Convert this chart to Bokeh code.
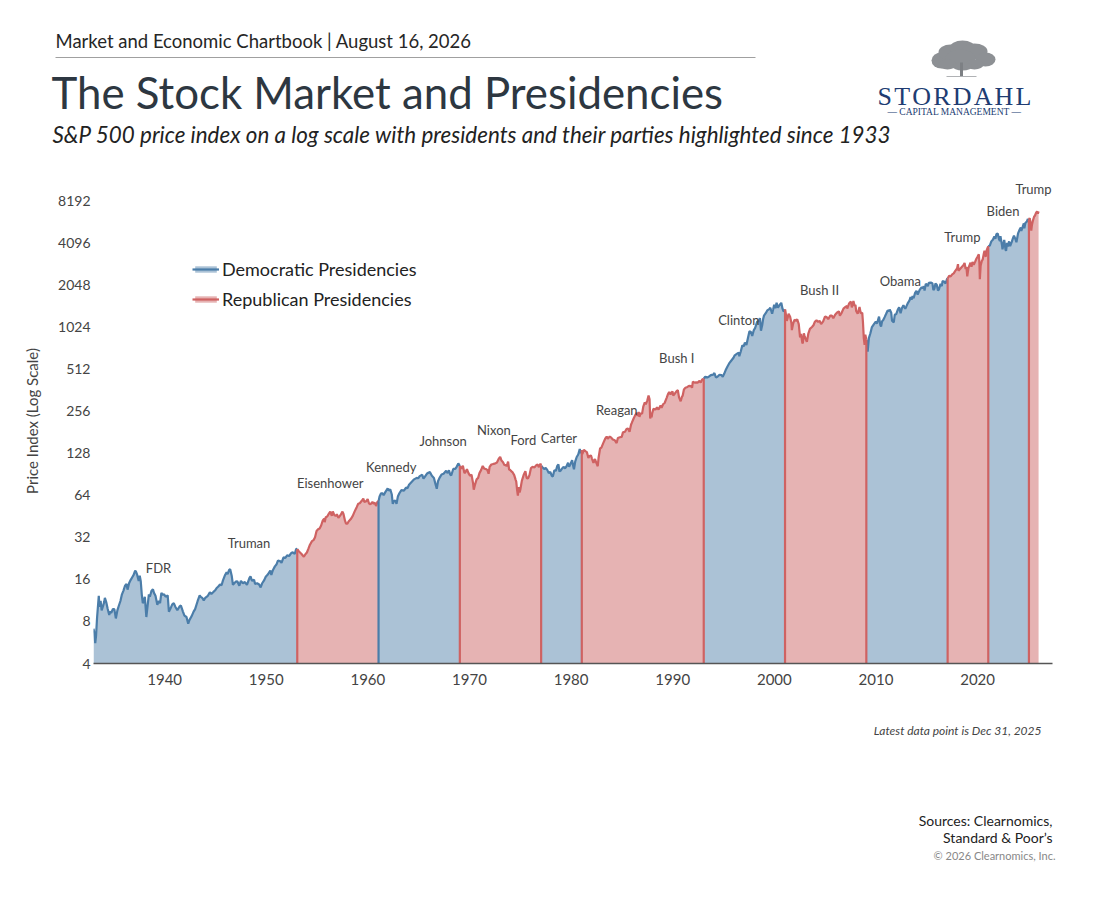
from bokeh.plotting import figure
from bokeh.layouts import column
from bokeh.models import (ColumnDataSource, FixedTicker, NumeralTickFormatter,
                          Legend, LegendItem, Range1d)
from bokeh.core.properties import value
from bokeh.embed import file_html
from bokeh.resources import INLINE

# ---------------- data ----------------
dates = [
 1933.00,1933.08,1933.17,1933.25,1933.35,1933.45,1933.52,1933.58,1933.70,1933.80,1933.92,
 1934.05,1934.12,1934.25,1934.40,1934.55,1934.62,1934.75,1934.90,
 1935.05,1935.20,1935.35,1935.50,1935.65,1935.80,1935.95,
 1936.10,1936.25,1936.35,1936.50,1936.65,1936.80,1936.95,
 1937.10,1937.20,1937.30,1937.45,1937.55,1937.65,1937.75,1937.85,1937.95,
 1938.05,1938.20,1938.30,1938.45,1938.55,1938.70,1938.85,1938.95,
 1939.10,1939.28,1939.40,1939.55,1939.68,1939.80,1939.95,
 1940.10,1940.30,1940.42,1940.55,1940.75,1940.90,
 1941.05,1941.25,1941.45,1941.60,1941.80,1941.95,
 1942.15,1942.32,1942.45,1942.65,1942.85,
 1943.00,1943.25,1943.45,1943.55,1943.70,1943.85,
 1944.00,1944.25,1944.45,1944.60,1944.80,1944.95,
 1945.10,1945.28,1945.45,1945.60,1945.75,1945.95,
 1946.10,1946.20,1946.35,1946.45,1946.60,1946.72,1946.85,
 1947.00,1947.15,1947.35,1947.50,1947.70,1947.90,
 1948.10,1948.35,1948.45,1948.60,1948.80,1948.90,
 1949.10,1949.30,1949.45,1949.60,1949.80,1949.95,
 1950.15,1950.40,1950.50,1950.65,1950.85,
 1951.00,1951.15,1951.40,1951.50,1951.70,1951.90,
 1952.05,1952.25,1952.45,1952.60,1952.80,1952.95,
 1953.05,1953.20,1953.45,1953.70,1953.85,
 1954.00,1954.15,1954.30,1954.50,1954.65,1954.80,1954.95,
 1955.10,1955.25,1955.40,1955.55,1955.70,1955.75,1955.85,
 1956.00,1956.15,1956.30,1956.45,1956.55,1956.70,1956.85,1956.95,
 1957.10,1957.30,1957.50,1957.60,1957.75,1957.85,1957.98,
 1958.10,1958.30,1958.50,1958.70,1958.90,
 1959.05,1959.20,1959.40,1959.55,1959.65,1959.85,1959.98,
 1960.10,1960.25,1960.45,1960.55,1960.70,1960.80,1960.95,
 1961.05,1961.15,1961.30,1961.45,1961.55,1961.70,1961.95,
 1962.05,1962.20,1962.35,1962.45,1962.55,1962.70,1962.82,1962.95,
 1963.10,1963.30,1963.55,1963.75,1963.89,
 1964.05,1964.30,1964.55,1964.80,1964.95,
 1965.10,1965.35,1965.47,1965.60,1965.80,1965.95,
 1966.10,1966.30,1966.50,1966.65,1966.78,1966.90,
 1967.05,1967.25,1967.45,1967.70,1967.85,1967.98,
 1968.10,1968.20,1968.40,1968.60,1968.75,1968.90,
 1969.05,1969.20,1969.35,1969.50,1969.60,1969.75,1969.90,
 1970.05,1970.20,1970.35,1970.42,1970.55,1970.70,1970.85,1970.98,
 1971.15,1971.30,1971.45,1971.60,1971.75,1971.88,1971.98,
 1972.15,1972.35,1972.50,1972.70,1972.88,
 1973.02,1973.15,1973.30,1973.45,1973.55,1973.65,1973.80,1973.90,1973.98,
 1974.10,1974.25,1974.40,1974.55,1974.60,1974.68,1974.76,1974.85,1974.93,
 1975.00,1975.15,1975.35,1975.50,1975.62,1975.75,1975.90,
 1976.05,1976.20,1976.40,1976.55,1976.70,1976.83,1976.98,
 1977.05,1977.20,1977.35,1977.50,1977.65,1977.80,1977.95,
 1978.10,1978.20,1978.35,1978.50,1978.65,1978.75,1978.85,1978.98,
 1979.10,1979.25,1979.40,1979.55,1979.70,1979.80,1979.95,
 1980.10,1980.22,1980.28,1980.40,1980.55,1980.70,1980.85,1980.93,
 1981.05,1981.10,1981.25,1981.40,1981.55,1981.70,1981.80,1981.95,
 1982.05,1982.20,1982.35,1982.50,1982.62,1982.70,1982.85,1982.98,
 1983.15,1983.35,1983.50,1983.60,1983.80,1983.95,
 1984.10,1984.30,1984.48,1984.60,1984.80,1984.98,
 1985.10,1985.30,1985.45,1985.60,1985.75,1985.90,1985.98,
 1986.15,1986.30,1986.45,1986.55,1986.65,1986.72,1986.85,1986.98,
 1987.10,1987.25,1987.35,1987.50,1987.62,1987.72,1987.78,1987.85,1987.92,1987.98,
 1988.10,1988.30,1988.45,1988.60,1988.80,1988.90,
 1989.05,1989.20,1989.40,1989.55,1989.65,1989.78,1989.85,1989.98,
 1990.05,1990.20,1990.38,1990.50,1990.62,1990.78,1990.90,1990.98,
 1991.10,1991.25,1991.45,1991.60,1991.80,1991.90,1991.98,
 1992.15,1992.30,1992.45,1992.60,1992.75,1992.90,
 1993.05,1993.20,1993.40,1993.55,1993.75,1993.98,
 1994.10,1994.25,1994.40,1994.60,1994.80,1994.92,
 1995.05,1995.20,1995.40,1995.55,1995.75,1995.98,
 1996.10,1996.30,1996.50,1996.55,1996.70,1996.85,1996.98,
 1997.10,1997.25,1997.40,1997.55,1997.70,1997.82,1997.98,
 1998.10,1998.30,1998.50,1998.58,1998.68,1998.80,1998.90,1998.98,
 1999.15,1999.30,1999.50,1999.60,1999.78,1999.88,1999.98,
 2000.10,2000.22,2000.35,2000.50,2000.68,2000.80,2000.90,2000.98,
 2001.05,2001.15,2001.22,2001.30,2001.40,2001.55,2001.68,2001.72,2001.85,2001.98,
 2002.15,2002.25,2002.40,2002.53,2002.62,2002.75,2002.80,2002.90,2002.98,
 2003.10,2003.20,2003.35,2003.50,2003.70,2003.85,2003.98,
 2004.15,2004.30,2004.45,2004.60,2004.80,2004.98,
 2005.15,2005.30,2005.50,2005.65,2005.80,2005.98,
 2006.15,2006.35,2006.45,2006.60,2006.80,2006.98,
 2007.15,2007.17,2007.35,2007.53,2007.62,2007.78,2007.90,2007.98,
 2008.05,2008.20,2008.38,2008.50,2008.65,2008.72,2008.80,2008.88,2008.95,
 2009.05,2009.12,2009.18,2009.30,2009.45,2009.60,2009.80,2009.98,
 2010.10,2010.30,2010.42,2010.50,2010.60,2010.70,2010.85,2010.98,
 2011.15,2011.30,2011.35,2011.50,2011.58,2011.75,2011.85,2011.98,
 2012.15,2012.28,2012.42,2012.55,2012.70,2012.88,2012.98,
 2013.15,2013.30,2013.40,2013.50,2013.60,2013.70,2013.85,2013.98,
 2014.10,2014.30,2014.50,2014.60,2014.70,2014.78,2014.90,2014.98,
 2015.10,2015.20,2015.40,2015.55,2015.65,2015.75,2015.85,2015.98,
 2016.10,2016.20,2016.35,2016.48,2016.55,2016.70,2016.85,2016.98,
 2017.05,2017.20,2017.35,2017.50,2017.65,2017.80,2017.98,
 2018.07,2018.12,2018.25,2018.40,2018.60,2018.72,2018.82,2018.90,2018.98,
 2019.10,2019.30,2019.40,2019.50,2019.62,2019.75,2019.88,2019.98,
 2020.12,2020.18,2020.22,2020.30,2020.42,2020.50,2020.62,2020.68,2020.75,2020.82,2020.90,2020.98,
 2021.05,2021.20,2021.35,2021.50,2021.65,2021.75,2021.85,2021.98,
 2022.10,2022.20,2022.25,2022.40,2022.45,2022.62,2022.75,2022.80,2022.90,2022.98,
 2023.10,2023.20,2023.35,2023.50,2023.58,2023.75,2023.82,2023.98,
 2024.15,2024.25,2024.30,2024.45,2024.55,2024.60,2024.70,2024.85,2024.95,2024.98,
 2025.05,2025.13,2025.22,2025.28,2025.35,2025.45,2025.55,2025.65,2025.75,2025.85,2025.93,2026.00,
]
spx = [
 7.1,6.6,5.6,6.3,8.5,10.5,12.2,10.2,11.2,9.6,10.2,
 11.0,11.8,11.0,9.8,8.9,9.4,9.2,9.8,
 9.8,8.4,9.6,10.4,11.2,12.5,13.3,
 14.4,14.8,13.5,15.0,15.8,16.5,17.2,
 18.5,18.0,17.2,15.6,17.0,15.5,12.5,10.8,11.2,
 12.0,8.6,10.0,12.5,12.0,13.2,13.6,12.8,
 12.2,10.5,11.2,10.8,12.8,12.4,12.5,
 12.0,12.3,9.4,9.8,10.6,10.8,
 10.2,9.6,10.2,10.4,9.4,8.8,
 8.6,7.7,8.2,8.7,9.4,
 9.8,11.2,12.3,12.0,11.8,11.3,
 11.8,12.2,12.9,12.6,13.0,13.3,
 13.8,14.2,14.7,14.5,15.8,17.2,
 18.0,17.4,18.7,18.9,17.0,14.6,15.0,
 15.4,15.5,14.4,15.6,15.0,15.3,
 14.6,16.4,16.8,15.6,15.9,14.8,
 15.0,14.7,14.0,15.0,15.8,16.7,
 17.3,18.5,17.2,18.6,19.8,
 20.4,21.8,21.5,21.0,23.0,22.8,
 23.8,23.5,24.6,25.0,24.3,26.4,
 26.3,25.4,24.4,23.2,24.2,
 24.9,26.5,28.3,30.0,30.5,32.0,35.5,
 36.5,37.0,38.8,42.0,43.5,41.0,44.5,
 45.0,47.0,48.8,45.5,48.9,46.0,45.5,46.7,
 44.0,46.0,48.8,47.0,42.0,40.0,40.0,
 41.5,43.0,45.3,49.0,52.5,
 55.5,56.0,58.3,60.5,57.3,58.0,59.9,
 56.0,55.0,57.3,55.5,56.5,53.5,57.5,
 58.0,62.5,66.0,65.8,64.0,67.0,71.5,
 69.0,70.5,65.0,55.5,58.0,58.5,55.5,62.5,
 66.0,69.5,69.0,72.5,71.5,
 76.0,79.5,83.0,85.0,84.5,
 87.5,89.5,84.0,86.5,91.0,92.5,
 93.5,88.0,85.0,77.0,71.0,80.5,
 85.0,90.0,91.0,95.5,92.0,96.5,
 90.0,88.5,98.5,98.5,102.5,108.0,
 103.5,99.0,104.0,92.0,93.5,98.0,92.0,
 88.0,89.5,78.0,70.0,76.5,83.0,85.0,92.0,
 97.0,103.5,99.0,98.5,97.0,91.0,102.0,
 106.0,107.0,107.5,109.5,116.5,
 120.0,113.0,110.0,104.5,106.0,103.0,111.0,97.0,97.5,
 95.0,93.0,89.0,82.0,80.0,70.0,63.5,73.0,67.0,
 70.0,81.0,90.0,95.0,85.0,84.0,89.0,
 100.0,102.0,101.0,104.5,106.0,101.5,107.5,
 104.0,101.0,98.5,100.0,97.0,92.0,94.0,
 88.0,87.0,96.5,95.5,104.0,106.0,94.5,96.0,
 99.0,102.0,99.5,103.0,109.0,102.0,107.5,
 114.0,102.0,98.0,111.0,120.0,125.0,137.0,128.0,
 134.0,126.0,135.0,132.0,130.0,118.0,122.0,123.0,
 117.0,109.0,116.0,108.0,103.0,118.0,138.0,140.0,
 150.0,162.0,168.0,162.0,168.0,165.0,
 160.0,158.0,151.0,164.0,166.0,167.0,
 180.0,182.0,190.0,192.0,182.0,205.0,211.0,
 226.0,238.0,248.0,236.0,252.0,232.0,247.0,244.0,
 275.0,295.0,286.0,305.0,330.0,310.0,226.0,245.0,230.0,247.0,
 265.0,262.0,272.0,262.0,280.0,270.0,
 286.0,292.0,318.0,340.0,350.0,336.0,345.0,353.0,
 330.0,340.0,355.0,360.0,320.0,300.0,323.0,330.0,
 365.0,375.0,380.0,387.0,385.0,375.0,415.0,
 408.0,410.0,408.0,420.0,410.0,430.0,
 435.0,450.0,445.0,450.0,462.0,466.0,
 478.0,445.0,450.0,465.0,462.0,450.0,
 470.0,500.0,535.0,560.0,585.0,615.0,
 640.0,655.0,670.0,630.0,685.0,755.0,740.0,
 790.0,760.0,850.0,950.0,940.0,880.0,970.0,
 1000.0,1110.0,1140.0,1180.0,960.0,1050.0,1170.0,1230.0,
 1280.0,1340.0,1370.0,1400.0,1270.0,1360.0,1470.0,
 1390.0,1520.0,1400.0,1460.0,1520.0,1380.0,1320.0,1330.0,
 1360.0,1240.0,1130.0,1180.0,1270.0,1210.0,1090.0,970.0,1080.0,1150.0,
 1130.0,1160.0,1070.0,860.0,910.0,790.0,780.0,920.0,880.0,
 830.0,800.0,920.0,990.0,1020.0,1050.0,1110.0,
 1140.0,1110.0,1130.0,1070.0,1120.0,1210.0,
 1200.0,1160.0,1230.0,1230.0,1180.0,1250.0,
 1290.0,1320.0,1230.0,1280.0,1380.0,1420.0,
 1440.0,1380.0,1500.0,1550.0,1410.0,1565.0,1440.0,1470.0,
 1330.0,1270.0,1420.0,1280.0,1290.0,1100.0,850.0,760.0,900.0,
 830.0,740.0,680.0,850.0,920.0,1020.0,1070.0,1115.0,
 1080.0,1210.0,1060.0,1030.0,1120.0,1140.0,1200.0,1258.0,
 1340.0,1330.0,1360.0,1290.0,1130.0,1100.0,1250.0,1258.0,
 1360.0,1410.0,1280.0,1390.0,1460.0,1380.0,1426.0,
 1520.0,1580.0,1670.0,1600.0,1700.0,1640.0,1790.0,1848.0,
 1740.0,1880.0,1970.0,1930.0,2000.0,1860.0,2070.0,2059.0,
 2000.0,2110.0,2120.0,2100.0,1870.0,1920.0,2090.0,2044.0,
 1860.0,1900.0,2080.0,2000.0,2170.0,2160.0,2090.0,2239.0,
 2270.0,2370.0,2350.0,2430.0,2470.0,2570.0,2674.0,
 2870.0,2580.0,2640.0,2720.0,2820.0,2930.0,2650.0,2740.0,2350.0,
 2700.0,2940.0,2750.0,2980.0,2840.0,2980.0,3140.0,3231.0,
 3380.0,2900.0,2240.0,2800.0,3040.0,3100.0,3440.0,3580.0,3300.0,3270.0,3620.0,3756.0,
 3850.0,3900.0,4180.0,4300.0,4530.0,4360.0,4700.0,4766.0,
 4350.0,4200.0,4550.0,3930.0,3670.0,4280.0,3640.0,3580.0,4080.0,3840.0,
 4180.0,3860.0,4130.0,4450.0,4590.0,4280.0,4120.0,4770.0,
 5100.0,5250.0,4970.0,5350.0,5630.0,5190.0,5650.0,5800.0,6050.0,5880.0,
 5990.0,6130.0,5600.0,4980.0,5500.0,5910.0,6250.0,6400.0,6690.0,6850.0,6600.0,6850.0,
]

presidents = ["FDR", "Truman", "Eisenhower", "Kennedy", "Johnson", "Nixon", "Ford", "Carter",
              "Reagan", "Bush I", "Clinton", "Bush II", "Obama", "Trump", "Biden", "Trump"]
term_start = [1933.00, 1945.28, 1953.05, 1961.05, 1963.89, 1969.05, 1974.60, 1977.05,
              1981.05, 1989.05, 1993.05, 2001.05, 2009.05, 2017.05, 2021.05, 2025.05]
party = ["D", "D", "R", "D", "D", "R", "R", "D", "R", "R", "D", "R", "D", "R", "D", "R"]
# label anchor positions (year, index level)
label_x = [1939.4, 1948.3, 1956.3, 1962.3, 1967.4, 1972.4, 1975.3, 1978.8,
           1984.5, 1990.4, 1996.5, 2004.45, 2012.4, 2018.5, 2022.5, 2025.5]
label_y = [19.4, 28.9, 77.6, 101, 155, 186, 160, 163, 258, 617, 1136, 1892, 2159, 4528, 6948, 9980]

x_ticks = [1940, 1950, 1960, 1970, 1980, 1990, 2000, 2010, 2020]
y_ticks = [4, 8, 16, 32, 64, 128, 256, 512, 1024, 2048, 4096, 8192]
end_date = 2026.00

# ---------------- style ----------------
FILL = {"D": "#ABC2D6", "R": "#E6B3B3"}
LINE = {"D": "#4B7DA9", "R": "#CF6262"}
FONT = "Lato"
Y0 = 4
W = 1090


def blank(h, top):
    f = figure(width=W, height=h, x_range=Range1d(0, W), y_range=Range1d(top + h, top),
               output_backend="svg", toolbar_location=None, x_axis_location=None,
               y_axis_location=None, min_border=0)
    f.frame_align = False
    f.outline_line_color = None
    f.grid.visible = False
    f.background_fill_color = "white"
    f.border_fill_color = "white"
    return f


def txt(f, s, x, y, size, color="#222222", style="normal", align="left", font=FONT):
    f.text(x=[x], y=[y], text=[s], text_font=value(font), text_font_size=size, text_color=color,
           text_font_style=style, text_align=align, text_baseline="middle")


# ---------------- header ----------------
HEAD_H = 150
head = blank(HEAD_H, 0)
txt(head, "Market and Economic Chartbook | August 16, 2026", 55, 40, "18.5px", "#262626")
head.segment(x0=[55], y0=[57], x1=[755], y1=[57], line_color="#a0a0a0", line_width=1)
txt(head, "The Stock Market and Presidencies", 51, 91, "43.8px", "#2d3741")
txt(head, "S&P 500 price index on a log scale with presidents and their parties highlighted since 1933",
    52, 134, "22.4px", "#222222", style="italic")
# logo
head.ellipse(x=[941, 950, 962, 974, 985, 960, 947, 974, 962],
             y=[60, 52, 48, 51, 59, 58, 64, 64, 66],
             width=[20, 24, 26, 26, 20, 30, 18, 18, 20], height=[16, 16, 16, 16, 14, 18, 10, 10, 8],
             fill_color="#8d9094", line_color=None)
head.segment(x0=[961], y0=[62], x1=[961], y1=[76], line_color="#7d8084", line_width=3)
head.segment(x0=[946], y0=[76], x1=[976], y1=[76], line_color="#b0b2b5", line_width=1)
txt(head, "S\u200aT\u200aO\u200aR\u200aD\u200aA\u200aH\u200aL", 954, 96, "26px", "#203c72",
    align="center", font="Liberation Serif")
txt(head, "\u2014 CAPITAL MANAGEMENT \u2014", 954, 111, "9.5px", "#203c72", align="center",
    font="Liberation Serif")

# ---------------- main chart ----------------
MAIN_H = 560
p = figure(width=W, height=MAIN_H, x_range=Range1d(1933.0, 2027.37), y_range=Range1d(Y0, 11772),
           y_axis_type="log", output_backend="svg", toolbar_location=None,
           min_border_left=93, min_border_right=38, min_border_top=28, min_border_bottom=47)
p.frame_align = False
p.background_fill_color = "white"
p.border_fill_color = "white"
p.outline_line_color = None
p.grid.visible = False

runs = []
for t, pt in zip(term_start, party):
    if runs and runs[-1][2] == pt:
        continue
    runs.append([t, None, pt])
for i in range(len(runs)):
    runs[i][1] = runs[i + 1][0] if i + 1 < len(runs) else end_date

renderers = {"D": [], "R": []}
for order in ("D", "R"):
    for s, e, pt in runs:
        if pt != order:
            continue
        xs = [d for d in dates if s - 1e-9 <= d <= e + 1e-9]
        ys = [v for d, v in zip(dates, spx) if s - 1e-9 <= d <= e + 1e-9]
        src = ColumnDataSource(dict(x=xs, y=ys, y0=[Y0] * len(xs)))
        a = p.varea(x="x", y1="y0", y2="y", source=src, fill_color=FILL[pt], fill_alpha=1)
        l = p.line(x="x", y="y", source=src, line_color=LINE[pt], line_width=2.2)
        renderers[pt].append((a, l))

bx, by, bc = [], [], []
for s, e, pt in runs[1:]:
    idx = min(range(len(dates)), key=lambda k: abs(dates[k] - s))
    bx.append(s)
    by.append(spx[idx])
    bc.append(LINE["D"] if abs(s - 1961.05) < 0.01 else LINE["R"])
bsrc = ColumnDataSource(dict(x=bx, y0=[Y0] * len(bx), y=by, c=bc))
p.segment(x0="x", y0="y0", x1="x", y1="y", color="c", line_width=2.2, source=bsrc)

lsrc = ColumnDataSource(dict(x=label_x, y=label_y, t=presidents))
p.text(x="x", y="y", text="t", source=lsrc, text_font=value(FONT), text_font_size="13px",
       text_color="#444444", text_align="center", text_baseline="middle")

p.xaxis.ticker = FixedTicker(ticks=x_ticks)
p.xaxis.axis_line_color = "#555555"
p.xaxis.axis_line_width = 1.3
p.xaxis.major_tick_line_color = None
p.xaxis.minor_tick_line_color = None
p.xaxis.major_tick_out = 0
p.xaxis.major_tick_in = 0
p.xaxis.major_label_text_font = FONT
p.xaxis.major_label_text_font_size = "15px"
p.xaxis.major_label_text_color = "#444444"
p.xaxis.major_label_standoff = 10

p.yaxis.ticker = FixedTicker(ticks=y_ticks)
p.yaxis.formatter = NumeralTickFormatter(format="0")
p.yaxis.axis_line_color = None
p.yaxis.major_tick_line_color = None
p.yaxis.minor_tick_line_color = None
p.yaxis.major_tick_out = 0
p.yaxis.major_tick_in = 0
p.yaxis.major_label_text_font = FONT
p.yaxis.major_label_text_font_size = "14px"
p.yaxis.major_label_text_color = "#444444"
p.yaxis.major_label_standoff = 3
p.yaxis.axis_label = "Price Index (Log Scale)"
p.yaxis.axis_label_text_font = FONT
p.yaxis.axis_label_text_font_size = "15px"
p.yaxis.axis_label_text_font_style = "normal"
p.yaxis.axis_label_text_color = "#444444"
p.yaxis.axis_label_standoff = 14

legend = Legend(items=[
    LegendItem(label="Democratic Presidencies", renderers=list(renderers["D"][0])),
    LegendItem(label="Republican Presidencies", renderers=list(renderers["R"][0])),
], location=(99, 353), orientation="vertical", background_fill_alpha=0, border_line_alpha=0,
   padding=0, margin=0, spacing=8, glyph_width=27, glyph_height=8, label_height=20,
   label_standoff=3, label_text_font=FONT, label_text_font_size="18px", label_text_color="#222222")
p.add_layout(legend)

# ---------------- footer ----------------
FOOT_TOP = HEAD_H + MAIN_H
foot = blank(160, FOOT_TOP)
txt(foot, "Latest data point is Dec 31, 2025", 1041, 730, "12px", "#444444", style="italic", align="right")
txt(foot, "Sources: Clearnomics,", 1052, 820, "14px", "#222222", align="right")
txt(foot, "Standard & Poor\u2019s", 1052, 837, "14px", "#222222", align="right")
txt(foot, "\u00a9 2026 Clearnomics, Inc.", 1055, 855, "11px", "#888888", align="right")

layout = column(head, p, foot, spacing=0)
open("out.html", "w").write(file_html(layout, INLINE))
